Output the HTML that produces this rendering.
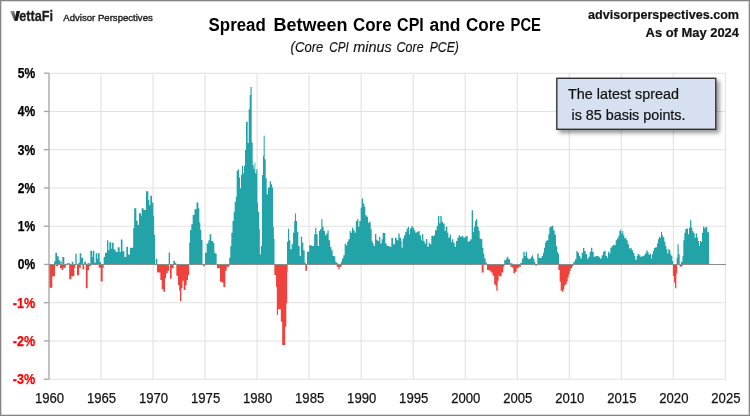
<!DOCTYPE html>
<html><head><meta charset="utf-8"><title>Spread Between Core CPI and Core PCE</title>
<style>
html,body{margin:0;padding:0;background:#fff;}
body{width:750px;height:416px;overflow:hidden;font-family:"Liberation Sans",sans-serif;}
svg{display:block;}
text{font-family:"Liberation Sans",sans-serif;}
.txt{opacity:0.999;}
.yl{font-size:14px;font-weight:bold;stroke-width:0.25px;}
.xl{font-size:14px;fill:#141414;stroke:#141414;stroke-width:0.25px;}
</style></head><body>
<svg width="750" height="416" viewBox="0 0 750 416">
<defs>
<filter id="sh" x="-10%" y="-20%" width="125%" height="150%"><feGaussianBlur in="SourceAlpha" stdDeviation="2.1"/><feOffset dx="2.8" dy="2.8"/><feComponentTransfer><feFuncA type="linear" slope="0.42"/></feComponentTransfer><feMerge><feMergeNode/><feMergeNode in="SourceGraphic"/></feMerge></filter>
<filter id="soft"><feGaussianBlur stdDeviation="0.35"/></filter>
</defs>
<rect x="0" y="0" width="750" height="416" fill="#fff"/>
<g stroke="#e2e2e2" stroke-width="1.1"><line x1="101.03" y1="73.20" x2="101.03" y2="379.20"/><line x1="153.06" y1="73.20" x2="153.06" y2="379.20"/><line x1="205.09" y1="73.20" x2="205.09" y2="379.20"/><line x1="257.12" y1="73.20" x2="257.12" y2="379.20"/><line x1="309.15" y1="73.20" x2="309.15" y2="379.20"/><line x1="361.18" y1="73.20" x2="361.18" y2="379.20"/><line x1="413.22" y1="73.20" x2="413.22" y2="379.20"/><line x1="465.25" y1="73.20" x2="465.25" y2="379.20"/><line x1="517.28" y1="73.20" x2="517.28" y2="379.20"/><line x1="569.31" y1="73.20" x2="569.31" y2="379.20"/><line x1="621.34" y1="73.20" x2="621.34" y2="379.20"/><line x1="673.37" y1="73.20" x2="673.37" y2="379.20"/><line x1="725.40" y1="73.20" x2="725.40" y2="379.20"/><line x1="49.00" y1="73.20" x2="725.40" y2="73.20"/><line x1="49.00" y1="111.45" x2="725.40" y2="111.45"/><line x1="49.00" y1="149.70" x2="725.40" y2="149.70"/><line x1="49.00" y1="187.95" x2="725.40" y2="187.95"/><line x1="49.00" y1="226.20" x2="725.40" y2="226.20"/><line x1="49.00" y1="302.70" x2="725.40" y2="302.70"/><line x1="49.00" y1="340.95" x2="725.40" y2="340.95"/><line x1="49.00" y1="379.20" x2="725.40" y2="379.20"/></g>
<g filter="url(#soft)">
<path d="M54.17 264.50V261.17H55.33V252.83H57.00V256.17H58.67V260.33H60.00V264.50ZM60.33 264.50V261.17H61.67V264.50ZM62.33 264.50V257.00H64.33V264.50ZM66.67 264.50V263.33H70.00V264.50ZM71.67 264.50V261.67H73.33V264.50ZM75.33 264.50V253.67H76.67V264.50ZM78.33 264.50V262.83H79.67V253.17H81.33V257.83H83.00V264.50ZM84.17 264.50V261.67H86.00V264.50ZM87.50 264.50V263.33H90.00V264.50ZM90.33 264.50V250.67H92.00V257.00H92.67V250.67H94.33V262.83H95.67V253.17H97.33V258.67H98.00V253.17H99.67V262.00H101.00V264.50ZM103.67 264.50V257.00H105.00V252.83H107.00V240.33H108.33V250.33H109.33V242.33H111.00V248.67H111.67V242.83H113.67V249.50H115.67V252.00H117.67V247.33H119.67V252.00H120.83V239.50H122.50V251.17H124.33V257.00H126.33V246.67H128.00V254.50H130.00V247.83H133.17V228.33H134.17V208.33H136.33V220.83H137.67V225.00H139.00V213.33H141.00V215.83H141.67V208.33H143.67V210.00H146.00V191.33H148.33V200.00H149.33V205.00H150.33V195.83H152.00V202.50H153.33V215.83H154.17V235.00H155.00V264.50ZM155.67 264.50V258.67H157.33V264.50ZM168.67 264.50V252.50H170.00V264.50ZM173.33 264.50V260.83H175.00V263.00H176.33V264.50ZM189.17 264.50V242.50H190.00V230.00H191.33V224.17H192.67V215.00H194.50V209.17H196.50V202.50H198.33V208.33H199.33V222.50H200.33V230.00H201.33V240.00H202.50V264.50ZM205.00 264.50V252.67H206.67V243.50H208.33V240.17H209.67V234.33H211.33V241.00H213.00V242.67H214.33V252.67H215.33V253.50H216.67V264.50ZM229.17 264.50V257.67H230.33V246.00H231.33V232.67H232.50V221.00H233.67V211.83H234.67V201.83H235.83V196.67H236.67V170.83H238.00V169.17H239.00V177.50H240.00V188.33H241.00V175.00H242.00V165.83H243.00V173.33H244.00V165.83H245.00V150.00H246.00V121.67H247.67V143.00H248.67V109.17H249.67V95.00H250.50V87.00H251.67V142.50H252.67V165.00H253.67V169.17H254.50V162.50H255.33V173.33H256.33V169.17H257.33V202.67H258.00V211.83H259.17V229.33H259.83V254.33H260.83V246.00H262.00V175.00H263.00V155.83H263.67V135.83H264.67V159.17H265.67V178.33H266.67V194.17H268.00V187.50H269.67V181.33H271.00V184.17H272.00V187.50H273.00V226.83H273.83V238.50H274.50V264.50ZM287.00 264.50V241.83H288.00V228.83H289.17V240.17H290.33V249.33H291.67V244.33H293.00V232.67H294.17V221.00H295.00V213.50H296.00V221.00H297.00V231.83H298.33V246.00H299.67V256.00H300.83V236.83H302.17V242.67H303.33V250.17H304.67V262.67H305.83V264.50ZM307.00 264.50V251.83H309.17V245.17H311.67V246.00H314.17V234.33H315.17V228.00H316.33V234.33H317.67V246.00H319.00V231.00H320.00V229.33H321.33V219.33H322.50V226.83H323.67V231.00H325.00V235.17H326.33V233.50H327.50V230.17H328.67V240.17H330.00V246.83H331.33V250.17H332.67V256.00H334.00V256.33H335.33V261.83H336.67V263.17H338.33V264.50ZM340.83 264.50V261.83H342.00V258.50H343.33V255.17H344.67V243.50H345.83V245.17H347.17V241.83H348.33V239.33H349.67V231.00H350.83V232.67H352.00V227.67H353.33V230.17H354.67V232.67H355.83V221.00H357.00V219.33H358.33V226.83H359.33V221.00H360.67V207.67H361.67V198.50H363.00V203.50H364.33V206.83H365.33V215.17H366.67V216.83H368.00V222.67H369.33V221.83H370.67V229.33H371.67V241.00H372.67V243.50H373.67V246.00H375.00V234.00H376.33V239.67H377.67V241.00H379.00V236.83H380.33V243.50H381.67V239.33H382.67V232.67H384.00V233.00H385.33V243.50H386.67V246.00H389.17V246.83H391.33V238.00H393.00V244.33H395.00V237.67H396.67V240.17H398.33V233.50H399.67V237.67H401.00V241.00H401.67V247.67H402.67V238.50H404.00V235.17H405.33V231.83H406.67V228.50H408.00V226.83H409.00V234.33H410.00V228.50H411.33V226.00H412.67V227.67H414.00V230.17H415.33V232.67H416.67V231.83H418.33V231.00H419.67V235.17H421.00V240.17H422.00V234.33H423.33V241.00H424.67V243.50H426.00V239.00H427.33V246.83H428.67V242.67H430.00V244.33H431.33V236.00H434.00V235.17H435.00V230.17H436.67V226.00H438.00V216.00H439.33V223.50H440.33V216.00H441.67V221.83H443.00V223.50H444.67V231.00H445.67V226.83H447.33V232.67H448.33V237.67H449.67V234.67H451.00V241.83H452.00V239.33H453.33V242.67H454.67V246.83H456.00V241.00H457.33V237.67H458.67V235.17H460.00V236.83H461.67V236.00H463.33V237.67H465.00V236.83H466.33V236.00H467.67V241.83H469.00V241.00H470.33V239.33H471.67V210.17H473.00V231.83H474.00V226.83H475.00V221.00H476.00V219.33H477.33V226.83H478.67V231.00H479.67V238.50H480.67V239.00H482.33V247.67H483.33V253.50H484.33V258.50H485.67V262.67H487.00V264.50ZM504.17 264.50V260.17H505.83V258.50H507.00V256.83H508.33V259.33H510.00V263.17H512.50V264.50ZM520.33 264.50V262.67H522.00V258.50H523.33V251.83H524.67V256.00H525.67V251.83H527.00V257.67H528.33V259.33H529.67V258.50H531.00V256.83H532.00V255.17H533.00V258.50H534.33V261.83H535.33V264.50ZM537.33 264.50V253.50H538.67V257.67H540.00V258.00H541.67V256.00H543.00V252.67H544.00V247.67H545.00V242.67H546.00V240.67H547.00V240.17H548.33V234.33H549.33V227.67H550.00V226.83H551.67V225.67H553.33V230.17H554.67V234.67H556.00V246.00H557.00V251.83H558.00V253.50H559.00V264.50ZM573.33 264.50V261.83H575.00V259.33H576.33V251.00H577.67V252.67H579.00V256.00H580.33V258.50H581.67V252.67H583.00V248.00H584.33V251.00H585.67V254.00H587.00V259.00H588.33V256.83H589.67V251.83H591.00V247.67H592.33V251.83H593.67V256.83H595.00V256.33H596.67V256.00H598.67V257.33H600.00V258.50H601.67V255.17H603.00V251.83H604.33V250.67H605.67V256.00H607.00V258.00H608.00V251.83H609.33V253.50H610.33V247.67H611.67V246.00H613.00V244.67H614.33V245.17H615.67V240.17H617.00V238.50H618.33V236.00H619.33V231.00H620.33V229.83H621.33V233.50H622.33V231.00H623.33V235.17H624.33V238.50H625.00V237.67H626.33V240.17H627.67V244.33H629.00V248.50H630.33V248.00H631.67V250.17H633.00V252.67H634.33V256.00H635.33V259.67H636.67V256.00H637.67V254.00H639.00V255.17H640.33V256.83H641.67V256.33H643.67V255.17H645.00V253.50H646.33V250.50H647.67V252.33H648.67V254.67H650.00V254.00H651.00V258.50H652.00V254.33H653.00V251.00H654.00V248.00H655.33V247.33H657.00V243.50H658.00V239.33H659.00V236.83H660.00V237.67H661.00V231.83H662.00V235.17H663.00V237.33H664.33V241.83H665.33V245.67H666.33V249.33H667.33V253.50H668.33V248.83H669.33V250.17H670.33V254.33H671.33V256.00H672.33V261.00H673.17V264.50ZM676.67 264.50V257.67H677.50V244.33H678.67V254.33H679.67V264.50ZM681.00 264.50V261.83H682.50V256.00H683.33V240.17H684.33V232.67H685.33V229.00H686.67V228.50H688.00V234.33H689.00V227.67H690.00V220.17H691.33V227.67H692.33V231.00H693.33V232.67H694.67V237.67H695.67V233.50H697.00V237.67H698.00V241.00H699.00V245.67H700.00V241.00H701.00V241.83H702.00V232.67H703.00V226.83H704.33V228.50H705.33V226.83H706.33V227.33H707.33V232.33H709.00V264.50Z" fill="#20a3a8"/>
<path d="M49.17 264.50V287.83H52.33V276.17H55.00V264.50ZM55.67 264.50V266.17H58.33V264.50ZM60.00 264.50V268.33H61.67V270.00H63.33V267.83H65.83V264.50ZM69.17 264.50V279.17H71.33V276.17H74.33V267.83H75.33V264.50ZM77.00 264.50V275.33H79.17V267.83H80.83V264.50ZM82.50 264.50V269.50H84.17V264.50ZM85.83 264.50V288.17H87.67V270.33H89.00V266.17H90.83V264.50ZM98.67 264.50V267.83H100.67V281.50H102.67V267.83H103.67V264.50ZM157.00 264.50V272.50H160.33V280.00H161.67V289.17H163.33V291.67H165.00V278.33H166.00V273.33H167.67V270.83H169.00V264.50ZM170.00 264.50V278.67H171.67V268.33H173.67V264.50ZM176.33 264.50V275.83H178.00V285.00H179.17V290.83H180.00V301.33H181.33V288.33H182.50V280.83H183.83V290.00H185.50V285.00H186.67V280.00H188.00V275.00H189.17V264.50ZM203.00 264.50V266.33H204.67V264.50ZM217.00 264.50V268.33H220.00V281.67H221.67V282.50H223.33V287.00H225.33V270.83H226.67V266.67H229.33V264.50ZM274.33 264.50V275.00H276.00V286.67H276.83V315.00H278.00V309.17H280.83V321.67H282.50V264.50ZM282.17 264.50V345.00H285.17V326.67H286.33V303.33H287.17V271.67H287.67V264.50ZM305.33 264.50V270.83H307.00V264.50ZM336.67 264.50V266.67H338.33V269.17H339.67V266.67H341.67V264.50ZM481.67 264.50V272.50H483.67V264.50ZM487.00 264.50V270.00H489.17V270.83H490.83V272.50H492.50V275.83H494.17V284.17H495.33V285.83H496.33V290.83H497.67V280.83H498.67V275.83H500.00V276.33H501.67V272.50H503.33V266.67H504.33V264.50ZM510.33 264.50V266.67H512.00V267.50H513.33V273.33H515.00V271.67H516.67V268.33H518.67V266.67H520.83V264.50ZM535.00 264.50V265.50H537.50V264.50ZM558.33 264.50V270.00H559.67V281.67H560.67V290.83H562.00V291.67H563.33V289.17H564.33V285.83H565.33V284.17H566.67V281.67H567.67V277.50H568.67V274.17H569.67V270.83H570.67V268.33H572.00V266.33H573.33V264.50ZM672.87 264.50V276.04H674.03V282.52H675.04V288.29H676.33V273.87H677.20V264.50ZM679.67 264.50V266.83H681.00V266.00H682.67V264.50Z" fill="#f0433c"/>
</g>
<g stroke="#a3a3a3" stroke-width="1.3">
<line x1="49.0" y1="73.2" x2="49.0" y2="379.2"/>
<line x1="44.00" y1="73.20" x2="49.00" y2="73.20"/><line x1="44.00" y1="111.45" x2="49.00" y2="111.45"/><line x1="44.00" y1="149.70" x2="49.00" y2="149.70"/><line x1="44.00" y1="187.95" x2="49.00" y2="187.95"/><line x1="44.00" y1="226.20" x2="49.00" y2="226.20"/><line x1="44.00" y1="264.45" x2="49.00" y2="264.45"/><line x1="44.00" y1="302.70" x2="49.00" y2="302.70"/><line x1="44.00" y1="340.95" x2="49.00" y2="340.95"/><line x1="44.00" y1="379.20" x2="49.00" y2="379.20"/>
</g>
<line x1="49.0" y1="264.5" x2="725.9" y2="264.5" stroke="#8c8c8c" stroke-width="1.2"/>
<g class="txt">
<text x="35.2" y="78.00" fill="#000" stroke="#000" text-anchor="end" class="yl" textLength="17.4" lengthAdjust="spacingAndGlyphs">5%</text><text x="35.2" y="116.25" fill="#000" stroke="#000" text-anchor="end" class="yl" textLength="17.4" lengthAdjust="spacingAndGlyphs">4%</text><text x="35.2" y="154.50" fill="#000" stroke="#000" text-anchor="end" class="yl" textLength="17.4" lengthAdjust="spacingAndGlyphs">3%</text><text x="35.2" y="192.75" fill="#000" stroke="#000" text-anchor="end" class="yl" textLength="17.4" lengthAdjust="spacingAndGlyphs">2%</text><text x="35.2" y="231.00" fill="#000" stroke="#000" text-anchor="end" class="yl" textLength="17.4" lengthAdjust="spacingAndGlyphs">1%</text><text x="35.2" y="269.25" fill="#000" stroke="#000" text-anchor="end" class="yl" textLength="17.4" lengthAdjust="spacingAndGlyphs">0%</text><text x="35.2" y="307.50" fill="#ff0000" stroke="#ff0000" text-anchor="end" class="yl" textLength="22.4" lengthAdjust="spacingAndGlyphs">-1%</text><text x="35.2" y="345.75" fill="#ff0000" stroke="#ff0000" text-anchor="end" class="yl" textLength="22.4" lengthAdjust="spacingAndGlyphs">-2%</text><text x="35.2" y="384.00" fill="#ff0000" stroke="#ff0000" text-anchor="end" class="yl" textLength="22.4" lengthAdjust="spacingAndGlyphs">-3%</text>
<text x="49.50" y="403" text-anchor="middle" class="xl" textLength="29.2" lengthAdjust="spacingAndGlyphs">1960</text><text x="101.53" y="403" text-anchor="middle" class="xl" textLength="29.2" lengthAdjust="spacingAndGlyphs">1965</text><text x="153.56" y="403" text-anchor="middle" class="xl" textLength="29.2" lengthAdjust="spacingAndGlyphs">1970</text><text x="205.59" y="403" text-anchor="middle" class="xl" textLength="29.2" lengthAdjust="spacingAndGlyphs">1975</text><text x="257.62" y="403" text-anchor="middle" class="xl" textLength="29.2" lengthAdjust="spacingAndGlyphs">1980</text><text x="309.65" y="403" text-anchor="middle" class="xl" textLength="29.2" lengthAdjust="spacingAndGlyphs">1985</text><text x="361.68" y="403" text-anchor="middle" class="xl" textLength="29.2" lengthAdjust="spacingAndGlyphs">1990</text><text x="413.72" y="403" text-anchor="middle" class="xl" textLength="29.2" lengthAdjust="spacingAndGlyphs">1995</text><text x="465.75" y="403" text-anchor="middle" class="xl" textLength="29.2" lengthAdjust="spacingAndGlyphs">2000</text><text x="517.78" y="403" text-anchor="middle" class="xl" textLength="29.2" lengthAdjust="spacingAndGlyphs">2005</text><text x="569.81" y="403" text-anchor="middle" class="xl" textLength="29.2" lengthAdjust="spacingAndGlyphs">2010</text><text x="621.84" y="403" text-anchor="middle" class="xl" textLength="29.2" lengthAdjust="spacingAndGlyphs">2015</text><text x="673.87" y="403" text-anchor="middle" class="xl" textLength="29.2" lengthAdjust="spacingAndGlyphs">2020</text><text x="725.90" y="403" text-anchor="middle" class="xl" textLength="29.2" lengthAdjust="spacingAndGlyphs">2025</text>
<!-- title -->
<g font-size="19.2px" font-weight="bold" fill="#000" lengthAdjust="spacingAndGlyphs">
<text x="208.6" y="31.4" textLength="57.2" lengthAdjust="spacingAndGlyphs">Spread</text><text x="273.4" y="31.4" textLength="74.0" lengthAdjust="spacingAndGlyphs">Between</text><text x="353.1" y="31.4" textLength="38.5" lengthAdjust="spacingAndGlyphs">Core</text><text x="397.1" y="31.4" textLength="26.7" lengthAdjust="spacingAndGlyphs">CPI</text><text x="429.5" y="31.4" textLength="31.0" lengthAdjust="spacingAndGlyphs">and</text><text x="466.0" y="31.4" textLength="38.9" lengthAdjust="spacingAndGlyphs">Core</text><text x="510.6" y="31.4" textLength="30.3" lengthAdjust="spacingAndGlyphs">PCE</text>
</g>
<g font-size="15px" font-style="italic" fill="#111" stroke="#111" stroke-width="0.15">
<text x="290.6" y="52.3" textLength="32.7" lengthAdjust="spacingAndGlyphs">(Core</text><text x="329.3" y="52.3" textLength="19.5" lengthAdjust="spacingAndGlyphs">CPI</text><text x="353.3" y="52.3" textLength="38.5" lengthAdjust="spacingAndGlyphs">minus</text><text x="396.6" y="52.3" textLength="27.0" lengthAdjust="spacingAndGlyphs">Core</text><text x="429.7" y="52.3" textLength="29.2" lengthAdjust="spacingAndGlyphs">PCE)</text>
</g>
<!-- right header -->
<text x="739" y="18.7" text-anchor="end" font-size="12.8px" font-weight="bold" fill="#111" stroke="#111" stroke-width="0.2" textLength="151" lengthAdjust="spacingAndGlyphs">advisorperspectives.com</text>
<text x="739" y="36.8" text-anchor="end" font-size="12.4px" font-weight="bold" fill="#111" stroke="#111" stroke-width="0.2" textLength="93.4" lengthAdjust="spacingAndGlyphs">As of May 2024</text>
<!-- logo -->
<defs><linearGradient id="vg" x1="0" y1="0" x2="1" y2="1"><stop offset="0" stop-color="#9a9a9a"/><stop offset="1" stop-color="#2a2a2a"/></linearGradient></defs>
<g fill="#1c1c1c">
<path d="M10.1 11H14.1L16.2 17.6L17.5 20.8H14.3Z" fill="url(#vg)"/>
<path d="M16.5 11H20.1L17.6 20.8H14.9L15.5 16.2Z" fill="#161616"/>
<text x="19.3" y="20.8" font-size="13.9px" font-weight="bold" stroke="#1c1c1c" stroke-width="0.3" textLength="33.8" lengthAdjust="spacingAndGlyphs">ettaFi</text>
<text x="63.3" y="20.9" font-size="9.8px" stroke="#1c1c1c" stroke-width="0.38" textLength="89.5" lengthAdjust="spacingAndGlyphs">Advisor Perspectives</text>
</g>
</g>
<!-- annotation -->
<g filter="url(#sh)"><rect x="556.8" y="78.3" width="159" height="51" fill="#d6e0f0" stroke="#333" stroke-width="1.4"/></g>
<g class="txt"><text x="568" y="99.3" font-size="15px" fill="#111" stroke="#111" stroke-width="0.22" textLength="111" lengthAdjust="spacingAndGlyphs">The latest spread</text>
<text x="571.5" y="119.7" font-size="15px" fill="#111" stroke="#111" stroke-width="0.22" textLength="114" lengthAdjust="spacingAndGlyphs">is 85 basis points.</text></g>
<!-- outer border -->
<rect x="0.65" y="0.65" width="748.7" height="414.7" fill="none" stroke="#858585" stroke-width="1.3"/>
</svg>
</body></html>
